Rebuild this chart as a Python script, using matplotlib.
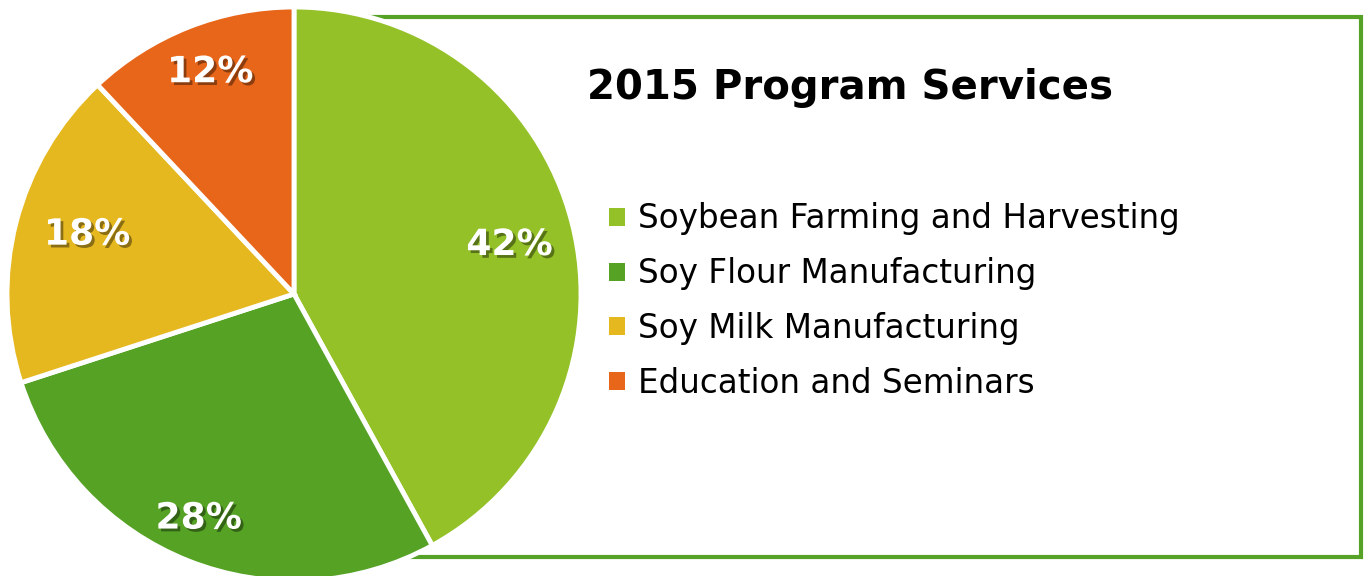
import matplotlib
matplotlib.use("Agg")
import matplotlib.pyplot as plt
import matplotlib.patheffects as pe
from matplotlib.patches import Rectangle
import numpy as np

categories = ["Soybean Farming and Harvesting", "Soy Flour Manufacturing",
              "Soy Milk Manufacturing", "Education and Seminars"]
values = [42, 28, 18, 12]
colors = ["#93C127", "#55A225", "#E6B820", "#E8661A"]
title = "2015 Program Services"

W, H = 1369, 576
fig = plt.figure(figsize=(W / 100, H / 100), dpi=100)

# Green bordered box (behind the pie)
def fx(px):
    return px / W

def fy(py):
    return 1 - py / H

box = Rectangle((fx(294), fy(557)), fx(1361) - fx(294), fy(16.5) - fy(557),
                transform=fig.transFigure, facecolor="white",
                edgecolor="#56A226", linewidth=3, zorder=0)
fig.patches.append(box)

cx, cy, r = 294, 294, 287
ax = fig.add_axes([fx(cx - r), fy(cy + r), 2 * r / W, 2 * r / H])
ax.set_zorder(2)
ax.patch.set_alpha(0)
wedges, _ = ax.pie(values, colors=colors, startangle=90, counterclock=False,
                   wedgeprops=dict(edgecolor="white", linewidth=3.5))
ax.set_xlim(-1, 1)
ax.set_ylim(-1, 1)
ax.set_aspect("equal")
ax.axis("off")

# label placement (radius fraction, angle tweak in degrees)
label_r = [0.77, 0.85, 0.75, 0.826]
label_dang = [-1.6, -1.4, -1.6, -0.9]
for w, v, lr, da in zip(wedges, values, label_r, label_dang):
    ang = np.deg2rad((w.theta1 + w.theta2) / 2 + da)
    ax.text(lr * np.cos(ang), lr * np.sin(ang), f"{v}%", ha="center", va="center",
            color="white", fontsize=26, fontweight="bold", family="DejaVu Sans",
            path_effects=[pe.withSimplePatchShadow(offset=(2, -2), shadow_rgbFace="black", alpha=0.4)])

fig.text(fx(850), fy(88), title, ha="center", va="center", fontsize=29,
         fontweight="bold", color="black", family="DejaVu Sans")

leg = fig.legend(wedges, categories, loc="upper left",
                 bbox_to_anchor=(fx(593), fy(186)), frameon=False,
                 fontsize=23.5, handlelength=0.47, handleheight=0.47,
                 handletextpad=0.4, labelspacing=0.67, borderpad=0)
for t in leg.get_texts():
    t.set_color("black")
for h in leg.legend_handles:
    h.set_linewidth(0)

fig.savefig("out.png", dpi=100)
